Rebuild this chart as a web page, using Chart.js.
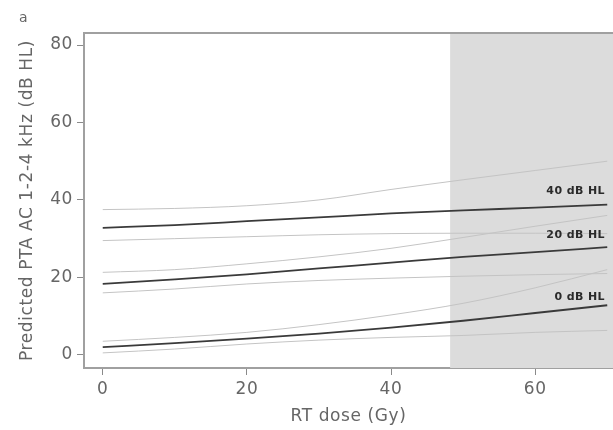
<!DOCTYPE html>
<html>
<head>
<meta charset="utf-8">
<script src="https://cdn.jsdelivr.net/npm/chart.js@4/dist/chart.umd.min.js"></script>
<style>
html,body{margin:0;padding:0;background:#fff;}
#wrap{width:613px;height:430px;position:relative;}
</style>
</head>
<body>
<div id="wrap"><canvas id="c" width="613" height="430"></canvas></div>
<script>
// RT dose (Gy)
const doses = [0, 10, 20, 30, 40, 50, 60, 70];
// 40 dB HL baseline
const hl40 = [32.8, 33.5, 34.5, 35.5, 36.5, 37.3, 38.0, 38.8];
const hl40Upper = [37.5, 37.8, 38.5, 40.0, 42.7, 45.2, 47.6, 50.0];
const hl40Lower = [29.5, 30.0, 30.5, 31.0, 31.3, 31.4, 31.4, 31.3];
// 20 dB HL baseline
const hl20 = [18.3, 19.5, 20.8, 22.3, 23.8, 25.3, 26.5, 27.8];
const hl20Upper = [21.3, 22.0, 23.5, 25.3, 27.5, 30.3, 33.2, 36.0];
const hl20Lower = [16.0, 17.0, 18.3, 19.2, 19.8, 20.3, 20.7, 21.0];
// 0 dB HL baseline
const hl0 = [2.0, 3.0, 4.2, 5.5, 7.0, 8.8, 10.8, 12.8];
const hl0Upper = [3.5, 4.5, 5.8, 7.8, 10.3, 13.3, 17.3, 22.0];
const hl0Lower = [0.5, 1.5, 2.8, 3.8, 4.5, 5.0, 5.8, 6.3];
const curveLabels = ["40 dB HL", "20 dB HL", "0 dB HL"];
const yTicks = [0, 20, 40, 60, 80];
const xTicks = [0, 20, 40, 60];
const shadeStart = 48.2; // Gy

const pts = arr => doses.map((d, i) => ({x: d, y: arr[i]}));
const ciStyle = {borderColor: '#c4c4c4', borderWidth: 1, pointRadius: 0, fill: false, cubicInterpolationMode: 'monotone'};
const mainStyle = {borderColor: '#3a3a3a', borderWidth: 1.8, pointRadius: 0, fill: false, cubicInterpolationMode: 'monotone'};

const datasets = [
  {label: 'u40', data: pts(hl40Upper), ...ciStyle},
  {label: 'l40', data: pts(hl40Lower), ...ciStyle},
  {label: 'u20', data: pts(hl20Upper), ...ciStyle},
  {label: 'l20', data: pts(hl20Lower), ...ciStyle},
  {label: 'u0', data: pts(hl0Upper), ...ciStyle},
  {label: 'l0', data: pts(hl0Lower), ...ciStyle},
  {label: curveLabels[0], data: pts(hl40), ...mainStyle},
  {label: curveLabels[1], data: pts(hl20), ...mainStyle},
  {label: curveLabels[2], data: pts(hl0), ...mainStyle},
];

const FONT = "'DejaVu Sans', 'Noto Sans', sans-serif";
const labelLift = [8, 7, 3];

const decor = {
  id: 'decor',
  beforeDraw(chart) {
    chart.ctx.letterSpacing = '0.6px';
  },
  beforeDatasetsDraw(chart) {
    const {ctx, chartArea: a, scales: {x}} = chart;
    const sx = x.getPixelForValue(shadeStart);
    ctx.save();
    ctx.fillStyle = '#dcdcdc';
    ctx.fillRect(sx, a.top, a.right - sx, a.bottom - a.top);
    ctx.restore();
  },
  afterDatasetsDraw(chart) {
    const {ctx, chartArea: a, scales: {x, y}} = chart;
    ctx.save();
    ctx.strokeStyle = '#a0a0a0';
    ctx.lineWidth = 2;
    ctx.beginPath();
    ctx.moveTo(a.left, a.bottom);
    ctx.lineTo(a.left, a.top);
    ctx.lineTo(a.right, a.top);
    ctx.stroke();
    ctx.letterSpacing = '0.4px';
    ctx.fillStyle = '#2a2a2a';
    ctx.font = "bold 11px " + FONT;
    ctx.textAlign = 'right';
    ctx.textBaseline = 'bottom';
    [hl40, hl20, hl0].forEach((arr, i) => {
      const yy = y.getPixelForValue(arr[arr.length - 1]);
      ctx.fillText(curveLabels[i], a.right - 8, yy - labelLift[i]);
    });
    ctx.fillStyle = '#666';
    ctx.font = "14px " + FONT;
    ctx.textAlign = 'left';
    ctx.textBaseline = 'middle';
    ctx.fillText('a', 19, 18);
    ctx.restore();
  },
  afterDraw(chart) {
    chart.ctx.letterSpacing = '0px';
  }
};

new Chart(document.getElementById('c'), {
  type: 'line',
  data: {datasets},
  plugins: [decor],
  options: {
    responsive: false,
    animation: false,
    layout: {padding: {top: 33, right: 0, left: 0, bottom: 0}},
    plugins: {legend: {display: false}, tooltip: {enabled: false}},
    scales: {
      x: {
        type: 'linear',
        min: -2.6, max: 70.8,
        afterBuildTicks: s => { s.ticks = xTicks.map(v => ({value: v})); },
        afterFit: s => { s.height = 62; },
        grid: {display: true, drawOnChartArea: false, drawTicks: true, tickLength: 7, color: '#8a8a8a', lineWidth: 1},
        border: {display: true, color: '#a0a0a0', width: 2},
        ticks: {color: '#666', font: {family: FONT, size: 17}, padding: 4},
        title: {display: true, text: 'RT dose (Gy)', color: '#666', font: {family: FONT, size: 17}, padding: {top: 4, bottom: 3}}
      },
      y: {
        type: 'linear',
        min: -3.4, max: 83.1,
        afterBuildTicks: s => { s.ticks = yTicks.map(v => ({value: v})); },
        afterFit: s => { s.width = 84; },
        grid: {display: true, drawOnChartArea: false, drawTicks: true, tickLength: 7, color: '#8a8a8a', lineWidth: 1},
        border: {display: true, color: '#a0a0a0', width: 2},
        ticks: {color: '#666', font: {family: FONT, size: 17}, padding: 4},
        title: {display: true, text: 'Predicted PTA AC 1-2-4 kHz (dB HL)', color: '#666', font: {family: FONT, size: 17}, padding: {top: 17, bottom: 0}}
      }
    }
  }
});
</script>
</body>
</html>
